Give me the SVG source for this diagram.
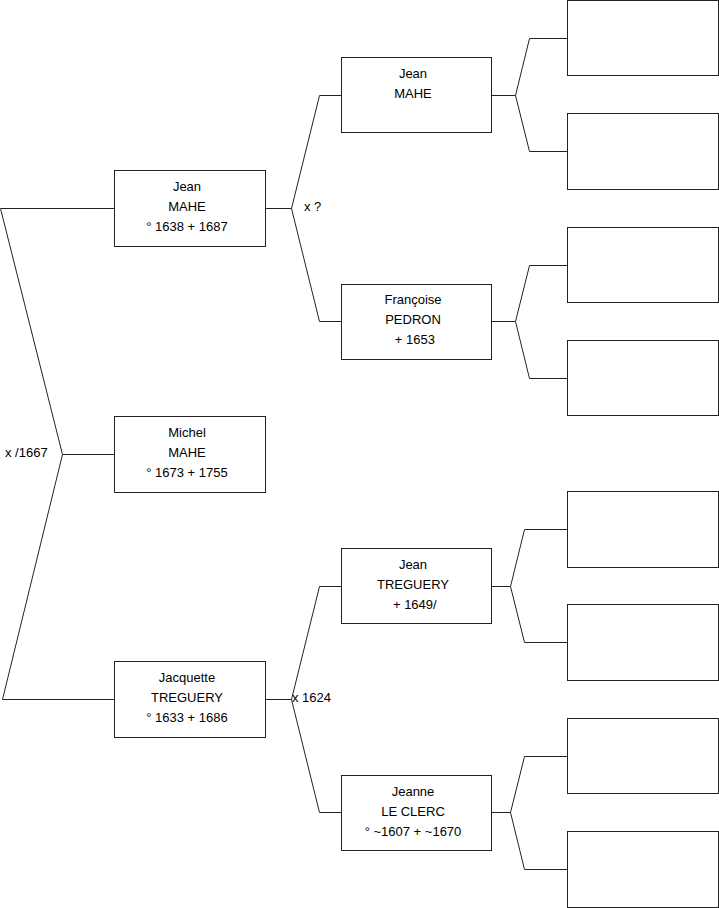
<svg xmlns="http://www.w3.org/2000/svg" width="719" height="908" viewBox="0 0 719 908">
<style>
.box{fill:#fff;stroke:#222;stroke-width:1}
.ln{fill:none;stroke:#222;stroke-width:1}
text{font-family:"Liberation Sans",Arial,sans-serif;font-size:13px;fill:#000}
.c{text-anchor:middle}
</style>
<rect width="719" height="908" fill="#fff"/>
<g id="connectors">
<polyline class="ln" points="114,208.5 0.5,208.5 62.5,454.5 114,454.5"/>
<polyline class="ln" points="62.5,454.5 2.5,699.5 114,699.5"/>
<polyline class="ln" points="265,208.5 291.5,208.5 319.5,95.5 341,95.5"/>
<polyline class="ln" points="291.5,208.5 319.5,321.5 341,321.5"/>
<polyline class="ln" points="265,699.5 291.5,699.5 319.5,586.5 341,586.5"/>
<polyline class="ln" points="291.5,699.5 319.5,812.5 341,812.5"/>
<polyline class="ln" points="492,95.5 515.5,95.5 529.5,38.5 567,38.5"/>
<polyline class="ln" points="515.5,95.5 529.5,151.5 567,151.5"/>
<polyline class="ln" points="492,321.5 515.5,321.5 529.5,265.5 567,265.5"/>
<polyline class="ln" points="515.5,321.5 529.5,378.5 567,378.5"/>
<polyline class="ln" points="492,586.5 510.5,586.5 524.5,529.5 567,529.5"/>
<polyline class="ln" points="510.5,586.5 524.5,642.5 567,642.5"/>
<polyline class="ln" points="492,812.5 510.5,812.5 524.5,756.5 567,756.5"/>
<polyline class="ln" points="510.5,812.5 524.5,869.5 567,869.5"/>
<text x="304" y="211">x ?</text>
<text x="5" y="457">x /1667</text>
<text x="292" y="702">x 1624</text>
</g>
<g id="n-jean-mahe-1">
<rect class="box" x="114.5" y="170.5" width="151" height="76"/>
<text class="c" x="187" y="191">Jean</text>
<text class="c" x="187" y="211">MAHE</text>
<text class="c" x="187" y="231">° 1638 + 1687</text>
</g>
<g id="n-michel">
<rect class="box" x="114.5" y="416.5" width="151" height="76"/>
<text class="c" x="187" y="437">Michel</text>
<text class="c" x="187" y="457">MAHE</text>
<text class="c" x="187" y="477">° 1673 + 1755</text>
</g>
<g id="n-jacquette">
<rect class="box" x="114.5" y="661.5" width="151" height="76"/>
<text class="c" x="187" y="682">Jacquette</text>
<text class="c" x="187" y="702">TREGUERY</text>
<text class="c" x="187" y="722">° 1633 + 1686</text>
</g>
<g id="n-jean-mahe-2">
<rect class="box" x="341.5" y="57.5" width="150" height="75"/>
<text class="c" x="413" y="78">Jean</text>
<text class="c" x="413" y="98">MAHE</text>
</g>
<g id="n-francoise">
<rect class="box" x="341.5" y="284.5" width="150" height="75"/>
<text class="c" x="413" y="304">Françoise</text>
<text class="c" x="413" y="324">PEDRON</text>
<text class="c" x="413" y="344" xml:space="preserve"> + 1653</text>
</g>
<g id="n-jean-treguery">
<rect class="box" x="341.5" y="548.5" width="150" height="75"/>
<text class="c" x="413" y="569">Jean</text>
<text class="c" x="413" y="589">TREGUERY</text>
<text class="c" x="413" y="609" xml:space="preserve"> + 1649/</text>
</g>
<g id="n-jeanne">
<rect class="box" x="341.5" y="775.5" width="150" height="75"/>
<text class="c" x="413" y="796">Jeanne</text>
<text class="c" x="413" y="816">LE CLERC</text>
<text class="c" x="413" y="836">° ~1607 + ~1670</text>
</g>
<g id="g3-1"><rect class="box" x="567.5" y="0.5" width="151" height="75"/></g>
<g id="g3-2"><rect class="box" x="567.5" y="113.5" width="151" height="76"/></g>
<g id="g3-3"><rect class="box" x="567.5" y="227.5" width="151" height="75"/></g>
<g id="g3-4"><rect class="box" x="567.5" y="340.5" width="151" height="75"/></g>
<g id="g3-5"><rect class="box" x="567.5" y="491.5" width="151" height="76"/></g>
<g id="g3-6"><rect class="box" x="567.5" y="604.5" width="151" height="76"/></g>
<g id="g3-7"><rect class="box" x="567.5" y="718.5" width="151" height="75"/></g>
<g id="g3-8"><rect class="box" x="567.5" y="831.5" width="151" height="76"/></g>
</svg>
